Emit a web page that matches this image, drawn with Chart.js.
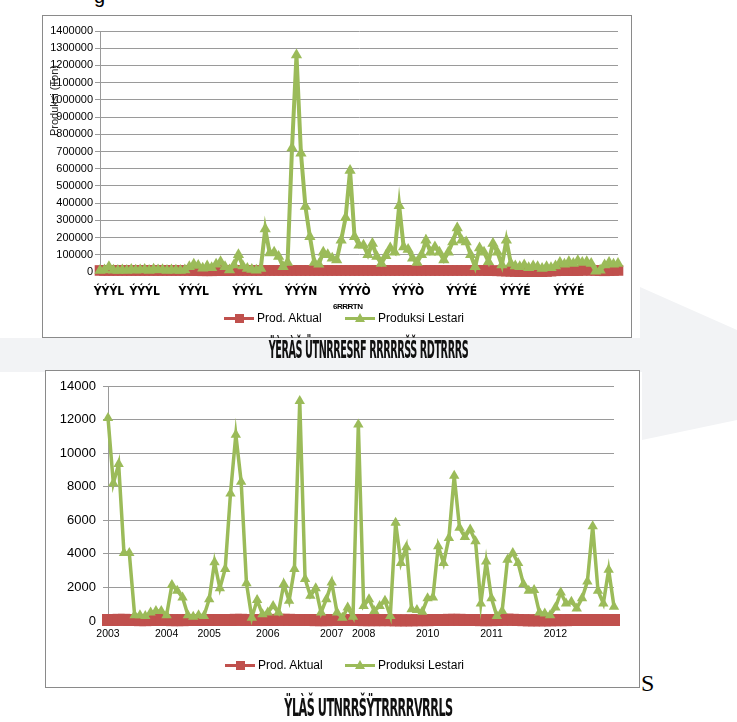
<!DOCTYPE html>
<html><head><meta charset="utf-8">
<script src="https://cdn.jsdelivr.net/npm/chart.js@4"></script>
<style>
html,body{margin:0;padding:0;background:#fff;width:737px;height:722px;overflow:hidden;position:relative;font-family:'Liberation Sans',Arial,sans-serif;}
.bg{position:absolute;left:0;top:0;width:737px;height:722px;background:#f2f3f5;clip-path:polygon(0 338px,640px 338px,640px 287px,737px 330px,737px 420px,642px 440px,642px 372px,0 372px);}
.box{position:absolute;background:#fff;border:1px solid #8a8a8a;}
canvas{display:block;}
.t{position:absolute;white-space:nowrap;color:#000;}
.ln{position:absolute;height:3px;width:30px;}
.sq{position:absolute;width:9px;height:9px;}
.tri{position:absolute;width:0;height:0;border-left:5px solid transparent;border-right:5px solid transparent;border-bottom:9px solid #9bbb59;}
.cap{position:absolute;left:0;width:737px;text-align:center;font-family:'Liberation Sans Narrow','DejaVu Sans Condensed',sans-serif;font-weight:bold;font-size:25px;letter-spacing:-1px;color:#111;transform-origin:center;}
</style></head>
<body>
<div class="bg"></div>
<div class="t" style="left:94px;top:-15px;font-size:20px;">g</div>

<div class="box" style="left:42px;top:15px;width:588px;height:321px;">
  <canvas id="c1" width="588" height="321"></canvas>
</div>
<div class="t" style="left:30px;top:106px;width:48px;font-size:11px;transform:rotate(-90deg);transform-origin:center;text-align:center;color:#222;">Produksi (Ton)</div>
<div class="t" style="left:333px;top:302px;font-size:8px;font-weight:bold;font-family:'Liberation Sans Narrow',sans-serif;letter-spacing:-0.5px;">6RRRTN</div>
<!-- legend 1 -->
<div class="ln" style="left:224px;top:317px;background:#c0504d"></div>
<div class="sq" style="left:235px;top:314px;background:#c0504d"></div>
<div class="t" style="left:257px;top:311px;font-size:12px;">Prod. Aktual</div>
<div class="ln" style="left:345px;top:317px;background:#9bbb59"></div>
<div class="tri" style="left:355px;top:313px;"></div>
<div class="t" style="left:378px;top:311px;font-size:12px;">Produksi Lestari</div>
<div class="cap" style="top:335px;transform:scaleX(0.43);">ŸÈRÀŠ ÜTNRRESRF RRRRRŠŠ RDTRRRS</div>

<div class="box" style="left:45px;top:370px;width:593px;height:316px;">
  <canvas id="c2" width="593" height="316"></canvas>
</div>
<!-- legend 2 -->
<div class="ln" style="left:225px;top:664px;background:#c0504d"></div>
<div class="sq" style="left:236px;top:661px;background:#c0504d"></div>
<div class="t" style="left:258px;top:658px;font-size:12px;">Prod. Aktual</div>
<div class="ln" style="left:345px;top:664px;background:#9bbb59"></div>
<div class="tri" style="left:355px;top:660px;"></div>
<div class="t" style="left:378px;top:658px;font-size:12px;">Produksi Lestari</div>
<div class="t" style="left:641px;top:670px;font-size:24px;font-family:'Liberation Serif',serif;">S</div>
<div class="cap" style="top:693px;transform:scaleX(0.5);">ŸLÀŠ UTNRRŠŸTRRRRVRRLS</div>

<script>
// ---------- Chart 1 data ----------
const c1TickIndex = [2, 10, 21, 33, 45, 57, 69, 81, 93, 105];
const c1TickText  = ['ÝÝÝL','ÝÝÝL','ÝÝÝL','ÝÝÝL','ÝÝÝN','ÝÝÝÒ','ÝÝÝÒ','ÝÝÝÉ','ÝÝÝÉ','ÝÝÝÉ'];
const c1Lestari = [
  8000,12000,30000,10000,8000,12000,9000,14000,10000,12000,
  15000,9000,16000,11000,13000,8000,12000,10000,9000,12000,
  30000,45000,38000,22000,35000,25000,45000,60000,30000,12000,
  40000,100000,35000,20000,15000,10000,20000,250000,110000,115000,
  90000,30000,55000,720000,1260000,690000,380000,205000,55000,45000,
  115000,100000,80000,70000,185000,315000,590000,205000,155000,155000,
  100000,165000,90000,50000,95000,140000,115000,385000,145000,130000,
  80000,55000,100000,185000,115000,145000,115000,70000,115000,175000,
  255000,185000,175000,100000,30000,140000,115000,60000,165000,115000,
  40000,185000,50000,35000,30000,40000,25000,35000,30000,20000,
  30000,25000,35000,55000,45000,60000,50000,65000,55000,60000,
  50000,5000,10000,40000,55000,45000,50000
];
const c1Aktual = [
  9000,9000,9000,9000,9000,9000,9000,9000,9000,9000,
  9000,9000,9000,9000,9000,9000,9000,9000,9000,9000,
  9000,8000,8000,7000,7000,7000,8000,8000,8000,8000,
  9000,9000,9000,9000,9000,9000,9000,9000,9000,9000,
  9000,9000,9000,9000,9000,9000,9000,9000,9000,9000,
  9000,9000,9000,9000,9000,9000,9000,9000,9000,9000,
  9000,9000,9000,9000,9000,9000,9000,9000,9000,9000,
  9000,9000,9000,9000,9000,9000,9000,9000,9000,9000,
  9000,9000,9000,9000,9000,9000,9000,8000,8000,7000,
  6000,5000,4000,3000,2000,2000,2000,2000,2000,2000,
  3000,5000,7000,8000,8000,8000,8000,8000,10000,10000,
  10000,9000,8000,7000,8000,9000,9000
];
// ---------- Chart 2 data ----------
const c2YearIndex = [0, 11, 19, 30, 42, 48, 60, 72, 84];
const c2YearText  = ['2003','2004','2005','2006','2007','2008','2010','2011','2012'];
const c2Lestari = [
  12100,8200,9350,4050,4050,350,350,300,500,600,
  600,350,2150,1800,1400,350,250,350,300,1300,
  3500,1950,3100,7600,11100,8300,2250,200,1250,400,
  500,900,500,2200,1200,3100,13100,2500,1500,1950,
  500,1300,2300,500,200,800,250,11700,900,1300,
  600,900,1200,300,5850,3450,4400,700,650,550,
  1350,1400,4450,3450,4950,8650,5550,5000,5450,4750,
  1050,3550,1350,300,600,3650,4050,3450,2200,1800,
  1850,500,450,350,800,1700,1050,1150,750,1350,
  2350,5650,1800,1050,3050,850
];
const c2Aktual = [
  60,60,70,70,60,60,50,50,60,60,
  60,60,50,50,50,60,60,60,60,60,
  60,60,60,60,70,70,60,60,60,60,
  60,60,70,70,70,60,60,60,60,50,
  50,50,60,60,60,60,60,60,50,50,
  50,50,50,50,40,40,40,40,50,50,
  50,60,60,60,70,70,70,60,60,60,
  50,50,50,60,70,80,70,60,50,40,
  40,40,40,40,50,50,50,60,60,60,
  60,60,60,60,60,60
];

const RED = '#c0504d', GREEN = '#9bbb59', GRID = '#9a9a9a';
const FAM = "'Liberation Sans', Arial, sans-serif";
const NARROW = "'Liberation Sans Narrow', 'DejaVu Sans Condensed', sans-serif";

const c1Labels = c1Lestari.map(() => '');
c1TickIndex.forEach((ix, k) => { c1Labels[ix] = c1TickText[k]; });
const c2Labels = c2Lestari.map(() => '');
c2YearIndex.forEach((ix, k) => { c2Labels[ix] = c2YearText[k]; });

function ds(label, data, color, style, radius, width, order) {
  return { label, data, borderColor: color, backgroundColor: color, pointBackgroundColor: color,
    borderWidth: width, pointStyle: style, pointRadius: radius, pointBorderWidth: 0,
    pointHoverRadius: radius, tension: 0, order, fill: false, clip: false };
}

new Chart(document.getElementById('c1'), {
  type: 'line',
  data: { labels: c1Labels, datasets: [
    ds('Prod. Aktual', c1Aktual, RED, 'rect', 7.5, 3, 1),
    ds('Produksi Lestari', c1Lestari, GREEN, 'triangle', 6.5, 4, 0)
  ]},
  options: {
    responsive: false, animation: false, events: [],
    layout: { padding: { left: 0, right: 9, top: 15, bottom: 0 } },
    plugins: { legend: { display: false }, tooltip: { enabled: false } },
    scales: {
      x: { grid: { display: false, drawTicks: false }, border: { display: true, color: GRID },
           ticks: { autoSkip: false, maxRotation: 0, minRotation: 0, padding: 13, color: '#000',
                    font: { family: NARROW, size: 12, weight: 'bold' } },
           afterFit(s) { s.height = 65; } },
      y: { min: 0, max: 1400000,
           ticks: { stepSize: 100000, padding: 2, color: '#000', font: { family: FAM, size: 11 },
                    callback: v => String(v) },
           grid: { color: GRID, tickLength: 5 }, border: { color: GRID },
           afterFit(s) { s.width = 57; } }
    }
  }
});

new Chart(document.getElementById('c2'), {
  type: 'line',
  data: { labels: c2Labels, datasets: [
    ds('Prod. Aktual', c2Aktual, RED, 'rect', 8.5, 4, 1),
    ds('Produksi Lestari', c2Lestari, GREEN, 'triangle', 6, 3.5, 0)
  ]},
  options: {
    responsive: false, animation: false, events: [],
    layout: { padding: { left: 0, right: 25, top: 15, bottom: 0 } },
    plugins: { legend: { display: false }, tooltip: { enabled: false } },
    scales: {
      x: { grid: { display: false, drawTicks: false }, border: { display: true, color: GRID },
           ticks: { autoSkip: false, maxRotation: 0, minRotation: 0, padding: 7, color: '#000',
                    font: { family: FAM, size: 10.5 } },
           afterFit(s) { s.height = 66; } },
      y: { min: 0, max: 14000,
           ticks: { stepSize: 2000, padding: 7, color: '#000', font: { family: FAM, size: 13 },
                    callback: v => String(v) },
           grid: { color: GRID, tickLength: 5 }, border: { color: GRID },
           afterFit(s) { s.width = 62; } }
    }
  }
});
</script>
</body></html>
